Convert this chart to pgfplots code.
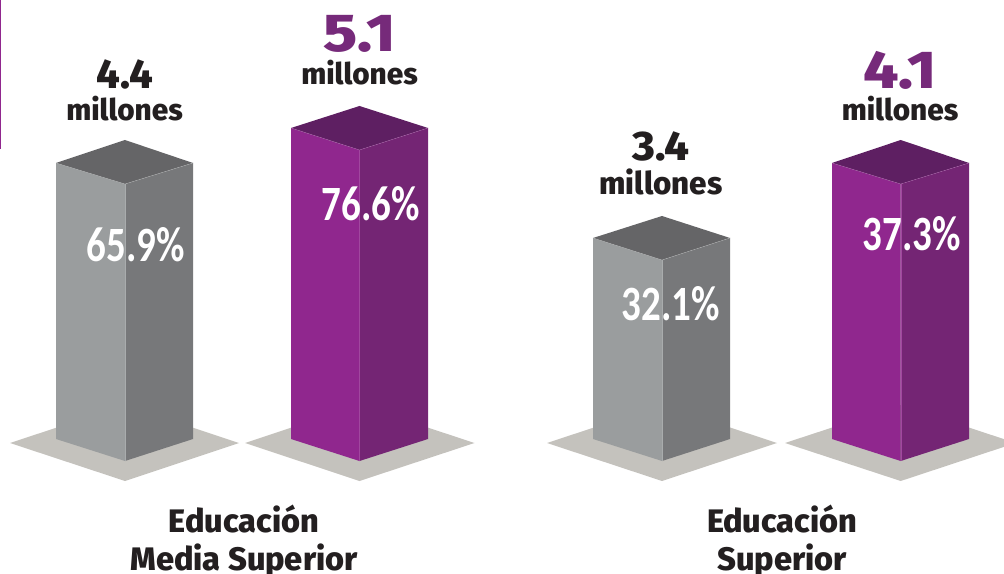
\documentclass[border=0pt]{standalone}
\usepackage{fontspec}
\setmainfont{Fira Sans}[BoldFont={Fira Sans ExtraBold}]
\newfontfamily\pctfont{Carlito}[BoldFont={Carlito Bold}]
\usepackage{pgfplots}
\pgfplotsset{compat=1.18}
\definecolor{ink}{HTML}{231F20}
\definecolor{floorc}{HTML}{C4C2BD}
\definecolor{gl}{HTML}{9A9D9E}
\definecolor{gr}{HTML}{77787A}
\definecolor{gt}{HTML}{656567}
\definecolor{pl}{HTML}{90278E}
\definecolor{pr}{HTML}{742574}
\definecolor{pt}{HTML}{5E1F62}
\definecolor{pnum}{HTML}{762A7A}
\newcommand{\lab}[5]{\node[anchor=base,inner sep=0pt,text=#4,font=\bfseries\fontsize{#3}{#3}\selectfont] at (axis cs:#1,#2) {#5};}
\newcommand{\pct}[3]{\node[anchor=base,inner sep=0pt,text=white,font=\pctfont\bfseries\fontsize{37}{37}\selectfont] at (axis cs:#1,#2) {\scalebox{0.79}[1]{#3}};}
\newcommand{\wnum}[6]{\node[anchor=base,inner sep=0pt,text=#4,font=\bfseries\fontsize{#3}{#3}\selectfont] at (axis cs:#1,#2) {\scalebox{#6}[1]{#5}};}
\pgfplotsset{face/.style={fill=#1,draw=none,line width=0pt}}
\begin{document}
\begin{tikzpicture}
\begin{axis}[
  scale only axis,
  width=753pt, height=430.5pt,
  xmin=0, xmax=1004, ymin=0, ymax=574,
  y dir=reverse,
  axis lines=none,
  clip=true,
]
% floors
\addplot[face=floorc] coordinates {(10,443) (125,405) (239,443) (125,481)} -- cycle;
\addplot[face=floorc] coordinates {(245,443) (359.5,405) (474.5,443) (359.5,481)} -- cycle;
\addplot[face=floorc] coordinates {(547,443) (662,405) (777,443) (662,481)} -- cycle;
\addplot[face=floorc] coordinates {(785,443) (900.7,405) (1015.7,443) (900.7,481)} -- cycle;
% bar 1
\addplot[face=gl] coordinates {(56,163) (125,184) (125,461) (56,439)} -- cycle;
\addplot[face=gr] coordinates {(125,184) (193,163) (193,439) (125,461)} -- cycle;
\addplot[face=gt] coordinates {(56,163) (125,140) (193,163) (125,184)} -- cycle;
% bar 2
\addplot[face=pl] coordinates {(291,128) (359.5,150) (359.5,461) (291,439)} -- cycle;
\addplot[face=pr] coordinates {(359.5,150) (428,128) (428,439) (359.5,461)} -- cycle;
\addplot[face=pt] coordinates {(291,128) (359.5,106) (428,128) (359.5,150)} -- cycle;
% bar 3
\addplot[face=gl] coordinates {(593,238) (662,260) (662,461) (593,439)} -- cycle;
\addplot[face=gr] coordinates {(662,260) (730,238) (730,439) (662,461)} -- cycle;
\addplot[face=gt] coordinates {(593,238) (662,216) (730,238) (662,260)} -- cycle;
% bar 4
\addplot[face=pl] coordinates {(832,163) (900.7,184) (900.7,461) (832,439)} -- cycle;
\addplot[face=pr] coordinates {(900.7,184) (969,163) (969,439) (900.7,461)} -- cycle;
\addplot[face=pt] coordinates {(832,163) (900.7,140) (969,163) (900.7,184)} -- cycle;
% thin pale edges
\addplot[gl!70!white,line width=0.2pt] coordinates {(56,163) (125,184) (193,163)};
\addplot[gl!85!white,line width=0.15pt] coordinates {(125,184) (125,461)};
\addplot[pl!70!white,line width=0.2pt] coordinates {(291,128) (359.5,150) (428,128)};
\addplot[pl!85!white,line width=0.15pt] coordinates {(359.5,150) (359.5,461)};
\addplot[gl!70!white,line width=0.2pt] coordinates {(593,238) (662,260) (730,238)};
\addplot[gl!85!white,line width=0.15pt] coordinates {(662,260) (662,461)};
\addplot[pl!70!white,line width=0.2pt] coordinates {(832,163) (900.7,184) (969,163)};
\addplot[pl!85!white,line width=0.15pt] coordinates {(900.7,184) (900.7,461)};
% rule at left edge
\addplot[pl,line width=1.2pt] coordinates {(0,0) (0,149)};
% labels
\wnum{125}{88.5}{31}{ink}{4.4}{1.0}
\lab{124.5}{120.5}{22.3}{ink}{millones}
\wnum{359.5}{51.5}{40}{pnum}{5.1}{1.17}
\lab{359.5}{84.5}{22.3}{ink}{millones}
\wnum{661}{160.5}{31}{ink}{3.4}{1.05}
\lab{661}{194.5}{23.5}{ink}{millones}
\wnum{900}{88.5}{40}{pnum}{4.1}{1.16}
\lab{900}{120.5}{22.3}{ink}{millones}
\pct{136}{262}{65.9\%}
\pct{371}{220.5}{76.6\%}
\pct{671}{320.5}{32.1\%}
\pct{912}{250.5}{37.3\%}
\lab{244}{532}{24.4}{ink}{Educación}
\lab{244}{570}{24.4}{ink}{Media Superior}
\lab{782}{532}{24.4}{ink}{Educación}
\lab{782}{570}{24.4}{ink}{Superior}
\end{axis}
\end{tikzpicture}
\end{document}
